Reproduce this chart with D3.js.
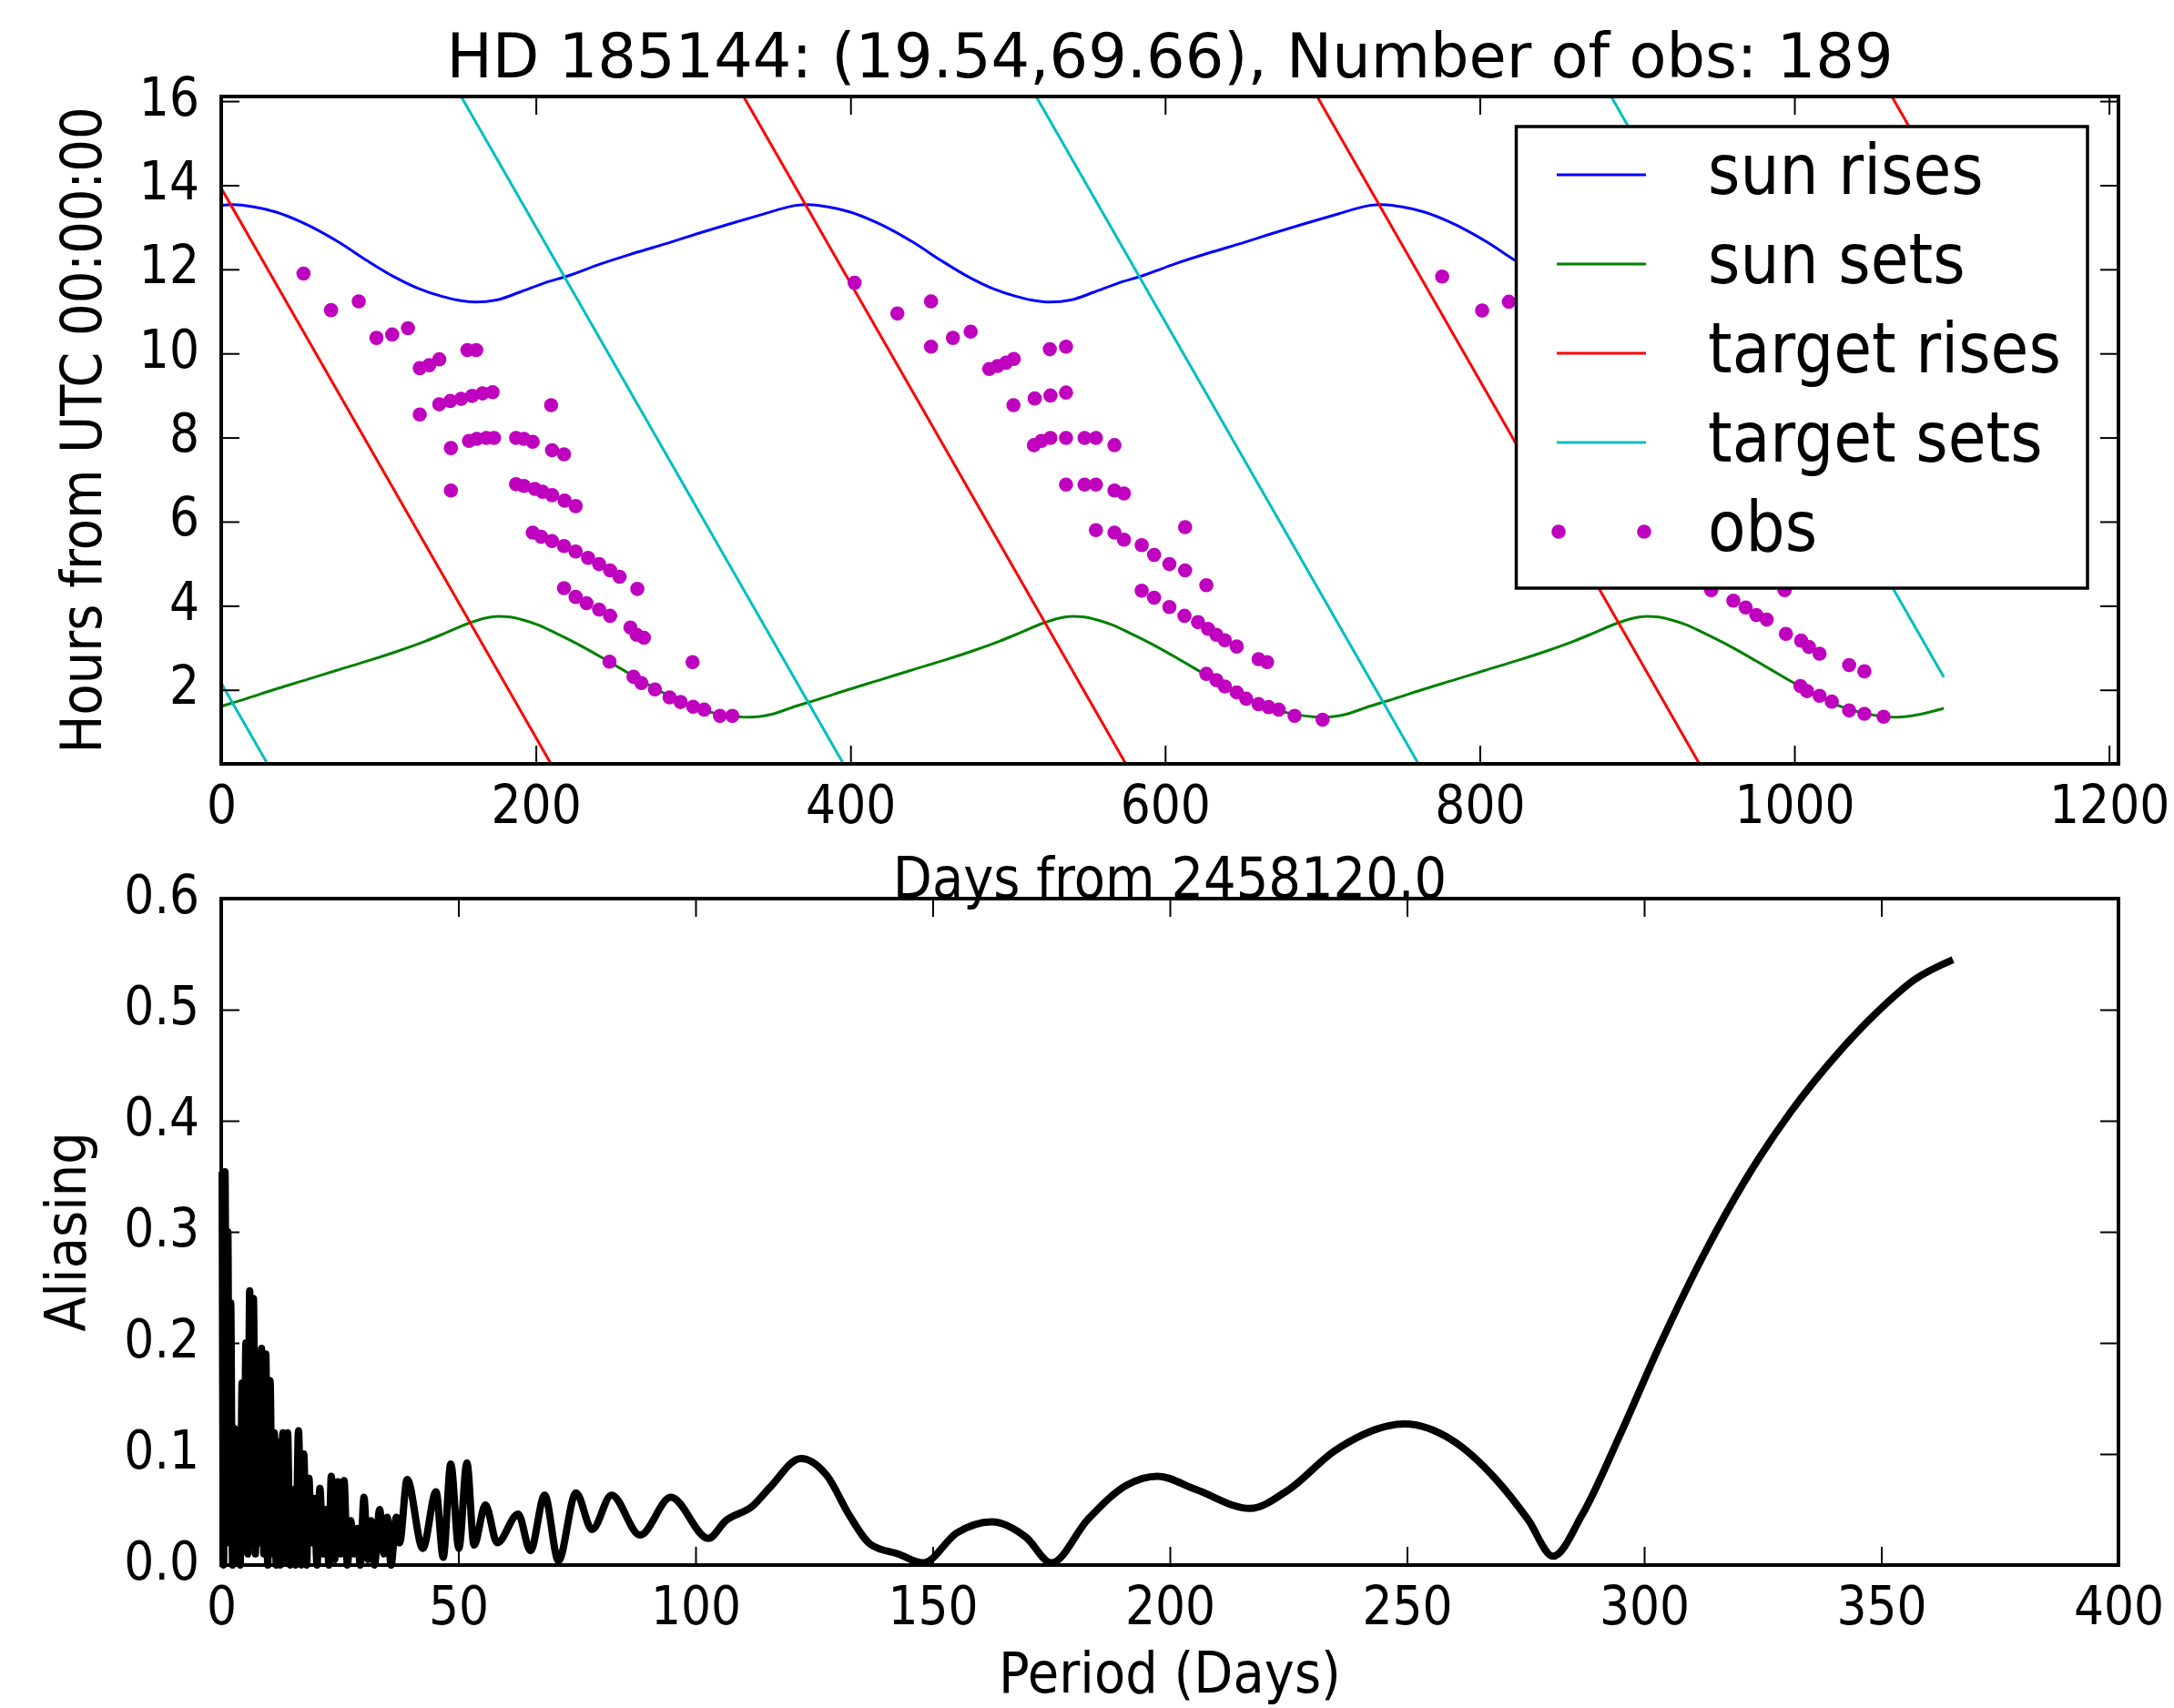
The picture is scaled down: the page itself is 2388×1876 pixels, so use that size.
<!DOCTYPE html>
<html>
<head>
<meta charset="utf-8">
<script src="https://cdn.jsdelivr.net/npm/d3@7"></script>
<style>
body { margin: 0; background: #fff; }
text { font-family: "DejaVu Sans", sans-serif; fill: #000; }
.tick-label { font-size: 52px; }
.axis-label { font-size: 56px; }
.legend-label { font-size: 68px; }
.title { font-size: 67px; }
</style>
</head>
<body>
<svg id="chart" width="2388" height="1876"></svg>
<script>
// ---- data ----
const title = 'HD 185144: (19.54,69.66), Number of obs: 189';
const dayTicks = [0, 200, 400, 600, 800, 1000, 1200];
const hourTicks = [2, 4, 6, 8, 10, 12, 14, 16];
const periodTicks = [0, 50, 100, 150, 200, 250, 300, 350, 400];
const aliasTicks = [0, 0.1, 0.2, 0.3, 0.4, 0.5, 0.6];
const legendLabels = ['sun rises', 'sun sets', 'target rises', 'target sets', 'obs'];
const colors = ['#0000ff', '#008000', '#ff0000', '#00bfbf', '#bf00bf'];

// [day, hours]
const sunRises = [
  [0,13.52],[8,13.54],[20,13.49],[35,13.36],[50,13.14],[62,12.92],[75,12.64],[93,12.20],
  [110,11.82],[125,11.55],[140,11.36],[150,11.27],[162,11.22],[175,11.27],[190,11.46],[205,11.67],
  [220,11.84],[242,12.14],[262,12.38],[286,12.65],[302,12.84],[325,13.10],[346,13.33],[358,13.46],
  [365,13.52],[373,13.54],[385,13.49],[400,13.36],[415,13.14],[427,12.92],[440,12.64],[458,12.20],
  [475,11.82],[490,11.55],[505,11.36],[515,11.27],[527,11.22],[540,11.27],[555,11.46],[570,11.67],
  [585,11.84],[607,12.14],[627,12.38],[651,12.65],[667,12.84],[690,13.10],[711,13.33],[723,13.46],
  [730,13.52],[738,13.54],[750,13.49],[765,13.36],[780,13.14],[792,12.92],[805,12.64],[823,12.20],
  [840,11.82],[855,11.55],[870,11.36],[880,11.27],[892,11.22],[905,11.27],[920,11.46],[935,11.67],
  [950,11.84],[972,12.14],[992,12.38],[1016,12.65],[1032,12.84],[1055,13.10],[1076,13.33],[1088,13.46],
  [1095,13.51]
];
const sunSets = [
  [0,1.61],[15,1.78],[33,2.00],[55,2.25],[73,2.46],[95,2.71],[113,2.93],[130,3.16],
  [143,3.36],[157,3.58],[167,3.70],[176,3.75],[184,3.73],[192,3.66],[201,3.55],[212,3.36],
  [230,3.02],[246,2.68],[262,2.33],[282,1.91],[302,1.57],[322,1.39],[335,1.35],[350,1.42],
  [365,1.61],[380,1.78],[398,2.00],[420,2.25],[438,2.46],[460,2.71],[478,2.93],[495,3.16],
  [508,3.36],[522,3.58],[532,3.70],[541,3.75],[549,3.73],[557,3.66],[566,3.55],[577,3.36],
  [595,3.02],[611,2.68],[627,2.33],[647,1.91],[667,1.57],[687,1.39],[700,1.35],[715,1.42],
  [730,1.61],[745,1.78],[763,2.00],[785,2.25],[803,2.46],[825,2.71],[843,2.93],[860,3.16],
  [873,3.36],[887,3.58],[897,3.70],[906,3.75],[914,3.73],[922,3.66],[931,3.55],[942,3.36],
  [960,3.02],[976,2.68],[992,2.33],[1012,1.91],[1032,1.57],[1052,1.39],[1065,1.35],[1080,1.42],
  [1095,1.56]
];
const targetRises = [
  [[0,13.93],[213.3,0]],
  [[211.2,24],[578.7,0]],
  [[575.8,24],[943.3,0]],
  [[941.2,24],[1095,13.95]]
];
const targetSets = [
  [[0,2.16],[33.1,0]],
  [[31.7,24],[399.2,0]],
  [[397.2,24],[764.7,0]],
  [[762.7,24],[1095,2.30]]
];
const obs = [
  [52.3,11.90],[69.8,11.03],[87.4,11.24],[98.7,10.37],[108.7,10.45],[118.7,10.60],[126.2,9.65],[132.2,9.72],
  [138.6,9.86],[156.5,10.08],[162.1,10.08],[126.2,8.55],[138.6,8.79],[145.6,8.87],[152.5,8.92],[159.5,8.99],
  [166.1,9.05],[172.5,9.08],[209.7,8.77],[146,7.75],[157.5,7.92],[162.5,7.97],[168.5,7.99],[173.4,7.99],
  [187.4,7.99],[192.4,7.97],[198,7.90],[210.3,7.70],[217.9,7.60],[146,6.74],[187.4,6.89],[192.4,6.85],
  [199.4,6.78],[204.3,6.71],[210.3,6.63],[218.3,6.50],[225.3,6.37],[198,5.74],[203.3,5.64],[210.3,5.54],
  [217.9,5.42],[225.3,5.29],[233.2,5.14],[240.2,4.99],[247.2,4.84],[253.2,4.69],[264.5,4.40],[217.9,4.42],
  [225.3,4.21],[232.2,4.06],[240.2,3.91],[247.2,3.76],[260.1,3.48],[264.1,3.31],[268.7,3.24],[246.8,2.67],
  [299.6,2.66],[262.1,2.31],[267.1,2.16],[275.7,2.01],[285,1.82],[292,1.71],[300,1.60],[307,1.53],
  [317,1.38],[324.9,1.38],
  [402.6,11.68],[429.8,10.95],[451.2,11.24],[451.2,10.16],[465.1,10.37],[476.4,10.52],[488.2,9.63],[493.5,9.70],
  [498.9,9.78],[503.8,9.87],[526.7,10.10],[537,10.16],[503.6,8.77],[517.1,8.93],[527.1,9.00],[537,9.07],
  [516.6,7.82],[521.4,7.92],[527.1,7.99],[537,7.99],[548.8,7.99],[556,7.99],[567.8,7.82],[537,6.88],
  [548.8,6.88],[556,6.88],[567.8,6.74],[573.8,6.67],[612.7,5.87],[556,5.80],[567.8,5.74],[573.8,5.57],
  [585.1,5.44],[593,5.21],[602.7,4.99],[612.7,4.84],[626.2,4.49],[585.1,4.36],[593,4.19],[602.7,3.97],
  [612.3,3.76],[620.9,3.61],[627.3,3.45],[632.6,3.31],[638,3.18],[645.5,3.03],[659.4,2.73],[664.8,2.66],
  [626.2,2.38],[632.6,2.23],[638,2.08],[645.5,1.94],[651.5,1.79],[659.4,1.66],[665.8,1.59],[672.2,1.53],
  [682.3,1.38],[700.1,1.29],
  [776.1,11.83],[801.5,11.02],[818.5,11.23],[947.1,4.37],[993.8,4.37],[961.2,4.12],[969,3.96],[975.8,3.78],
  [982.4,3.67],[994.6,3.33],[1004.3,3.17],[1009.2,3.02],[1016,2.86],[1034.8,2.59],[1044.5,2.44],[1003.8,2.09],
  [1008,1.97],[1016,1.86],[1023.8,1.72],[1034.8,1.51],[1044.5,1.43],[1056.7,1.36]
];
// [period (days), aliasing]
const aliasing = [
  [0.2,0.354],[0.5,0.0],[0.8,0.354],[1.1,0.05],[1.4,0.30],[1.7,0.02],[2.0,0.236],[2.4,0.0],[2.8,0.123],
  [3.2,0.01],[3.6,0.12],[4.0,0.0],[4.4,0.164],[4.8,0.02],[5.2,0.2],[5.6,0.01],[6.0,0.247],
  [6.4,0.02],[6.8,0.24],[7.2,0.01],[7.6,0.17],[8.0,0.02],[8.5,0.195],[9.0,0.01],[9.4,0.19],
  [9.8,0.0],[10.3,0.166],[10.8,0.01],[11.2,0.119],[11.6,0.0],[12.0,0.111],[12.5,0.0],[13.0,0.119],
  [13.5,0.005],[14.0,0.119],[14.5,0.0],[15.2,0.068],[15.7,0.0],[16.3,0.121],[16.9,0.0],[17.4,0.10],
  [18.0,0.0],[18.5,0.078],[19.0,0.02],[19.6,0.06],[20.2,0.0],[20.8,0.069],[21.5,0.01],[22.2,0.05],
  [22.7,0.0],[23.2,0.08],[23.9,0.005],[24.6,0.075],[25.2,0.01],[25.9,0.076],[26.6,0.0],[27.3,0.04],
  [28.0,0.01],[28.7,0.033],[29.3,0.0],[30.1,0.061],[30.9,0.005],[31.6,0.04],[32.3,0.0],[33.4,0.05],
  [34.3,0.01],[35.0,0.043],[35.8,0.0],[36.9,0.043],[37.6,0.02],[39.2,0.077],[42.5,0.015],[45.3,0.066],
  [46.8,0.007],[48.4,0.091],[50.1,0.015],[51.8,0.092],[53.3,0.018],[55.7,0.054],[58.2,0.02],[62.6,0.046],
  [65.2,0.013],[68.2,0.063],[71.1,0.004],[74.8,0.065],[78.2,0.032],[82.3,0.063],[88.3,0.027],[94.8,0.061],
  [102.7,0.024],[106.4,0.04],[112,0.053],[115.7,0.07],[122.2,0.096],[127.8,0.08],[132.4,0.045],[137.1,0.018],
  [142.7,0.01],[148,0.002],[155.1,0.029],[162.4,0.039],[169.7,0.025],[175,0.002],[182.7,0.041],[190.9,0.072],
  [197.4,0.080],[205.5,0.068],[216.9,0.051],[225.1,0.068],[234.8,0.103],[249.5,0.127],[259.3,0.113],[269,0.076],
  [275.5,0.041],[280.8,0.008],[286.9,0.045],[295.1,0.119],[303.2,0.197],[313,0.283],[321.1,0.345],[330.9,0.408],
  [340.7,0.460],[350.4,0.503],[357,0.527],[365.1,0.545]
];

// ---- layout ----
const svg = d3.select('#chart');
svg.append('rect').attr('width', 2388).attr('height', 1876).attr('fill', '#fff');

const left = 243, right = 2327;
const top1 = 106, bottom1 = 839;
const top2 = 987, bottom2 = 1719;

const x1 = d3.scaleLinear().domain([0, 1206]).range([left, right]);
const y1 = d3.scaleLinear().domain([0.24, 16.11]).range([bottom1, top1]);
const x2 = d3.scaleLinear().domain([0, 400]).range([left, right]);
const y2 = d3.scaleLinear().domain([0, 0.6]).range([bottom2, top2]);

const tidy = sel => {
    sel.select('.domain').remove();
    sel.attr('font-size', null).attr('font-family', null);
    sel.selectAll('line').attr('stroke', '#000').attr('stroke-width', 2);
};

const drawFrame = (g, x, y, xTicks, yTicks, yFormat, top, bottom) => {
    g.append('g').attr('transform', `translate(0,${bottom})`)
        .call(d3.axisBottom(x).tickValues(xTicks).tickSize(-20).tickFormat(d3.format('d')))
        .call(tidy)
        .selectAll('text')
        .attr('y', null).attr('dy', null)
        .attr('class', 'tick-label')
        .attr('transform', 'translate(0,65) scale(1,1.13)');
    g.append('g').attr('transform', `translate(0,${top})`)
        .call(d3.axisTop(x).tickValues(xTicks).tickSize(-20).tickFormat(() => ''))
        .call(tidy);
    g.append('g').attr('transform', `translate(${left},0)`)
        .call(d3.axisLeft(y).tickValues(yTicks).tickSize(-20).tickFormat(yFormat))
        .call(tidy)
        .selectAll('text')
        .attr('x', null).attr('dy', null)
        .attr('class', 'tick-label')
        .attr('transform', 'translate(-24,15) scale(1,1.13)');
    g.append('g').attr('transform', `translate(${right},0)`)
        .call(d3.axisRight(y).tickValues(yTicks).tickSize(-20).tickFormat(() => ''))
        .call(tidy);
    g.append('rect')
        .attr('x', left).attr('y', top)
        .attr('width', right - left).attr('height', bottom - top)
        .attr('fill', 'none').attr('stroke', '#000').attr('stroke-width', 4);
};

// ---- top panel ----
svg.append('clipPath').attr('id', 'clip1')
    .append('rect').attr('x', left).attr('y', top1)
    .attr('width', right - left).attr('height', bottom1 - top1);

const plot1 = svg.append('g').attr('clip-path', 'url(#clip1)');

const smoothLine = d3.line()
    .x(d => x1(d[0])).y(d => y1(d[1]))
    .curve(d3.curveMonotoneX);
const straightLine = d3.line()
    .x(d => x1(d[0])).y(d => y1(d[1]));

plot1.append('path').datum(sunRises)
    .attr('d', smoothLine).attr('fill', 'none')
    .attr('stroke', colors[0]).attr('stroke-width', 3);
plot1.append('path').datum(sunSets)
    .attr('d', smoothLine).attr('fill', 'none')
    .attr('stroke', colors[1]).attr('stroke-width', 3);
plot1.selectAll('path.rise').data(targetRises).enter()
    .append('path').attr('class', 'rise')
    .attr('d', straightLine).attr('fill', 'none')
    .attr('stroke', colors[2]).attr('stroke-width', 3);
plot1.selectAll('path.set').data(targetSets).enter()
    .append('path').attr('class', 'set')
    .attr('d', straightLine).attr('fill', 'none')
    .attr('stroke', colors[3]).attr('stroke-width', 3);
plot1.selectAll('circle').data(obs).enter()
    .append('circle')
    .attr('cx', d => x1(d[0])).attr('cy', d => y1(d[1]))
    .attr('r', 7.8).attr('fill', colors[4]);

drawFrame(svg.append('g'), x1, y1, dayTicks, hourTicks, d3.format('d'), top1, bottom1);

svg.append('text').attr('class', 'title')
    .attr('x', (left + right) / 2).attr('y', 85)
    .attr('text-anchor', 'middle')
    .text(title);

svg.append('text').attr('class', 'axis-label')
    .attr('text-anchor', 'middle')
    .attr('transform', `translate(111,${(top1 + bottom1) / 2}) rotate(-90) scale(1,1.125)`)
    .text('Hours from UTC 00:00:00');

// legend
const legend = svg.append('g');
legend.append('rect')
    .attr('x', 1665.5).attr('y', 139).attr('width', 627.5).attr('height', 507)
    .attr('fill', '#fff').attr('stroke', '#000').attr('stroke-width', 3.5);
legendLabels.forEach((label, i) => {
    const ly = 192 + i * 98;
    if (label === 'obs') {
        [1712, 1806].forEach(cx => {
            legend.append('circle').attr('cx', cx).attr('cy', ly)
                .attr('r', 7.8).attr('fill', colors[i]);
        });
    } else {
        legend.append('line')
            .attr('x1', 1710).attr('x2', 1808).attr('y1', ly).attr('y2', ly)
            .attr('stroke', colors[i]).attr('stroke-width', 3);
    }
    legend.append('text').attr('class', 'legend-label')
        .attr('transform', `translate(1876,${ly + 21}) scale(1,1.12)`)
        .text(label);
});

// ---- bottom panel ----
const plot2 = svg.append('g');
plot2.append('path').datum(aliasing)
    .attr('d', d3.line().x(d => x2(d[0])).y(d => y2(d[1])).curve(d3.curveMonotoneX))
    .attr('fill', 'none').attr('stroke', '#000')
    .attr('stroke-width', 8).attr('stroke-linejoin', 'round');

drawFrame(svg.append('g'), x2, y2, periodTicks, aliasTicks, d3.format('.1f'), top2, bottom2);

svg.append('text').attr('class', 'axis-label')
    .attr('text-anchor', 'middle')
    .attr('transform', `translate(94,${(top2 + bottom2) / 2}) rotate(-90) scale(1,1.125)`)
    .text('Aliasing');

svg.append('text').attr('class', 'axis-label')
    .attr('text-anchor', 'middle')
    .attr('transform', `translate(${(left + right) / 2},1859) scale(1,1.1)`)
    .text('Period (Days)');

// x label of the top panel sits over the lower frame, as in the original
svg.append('text').attr('class', 'axis-label')
    .attr('text-anchor', 'middle')
    .attr('transform', `translate(${(left + right) / 2},986) scale(1,1.125)`)
    .text('Days from 2458120.0');
</script>
</body>
</html>
